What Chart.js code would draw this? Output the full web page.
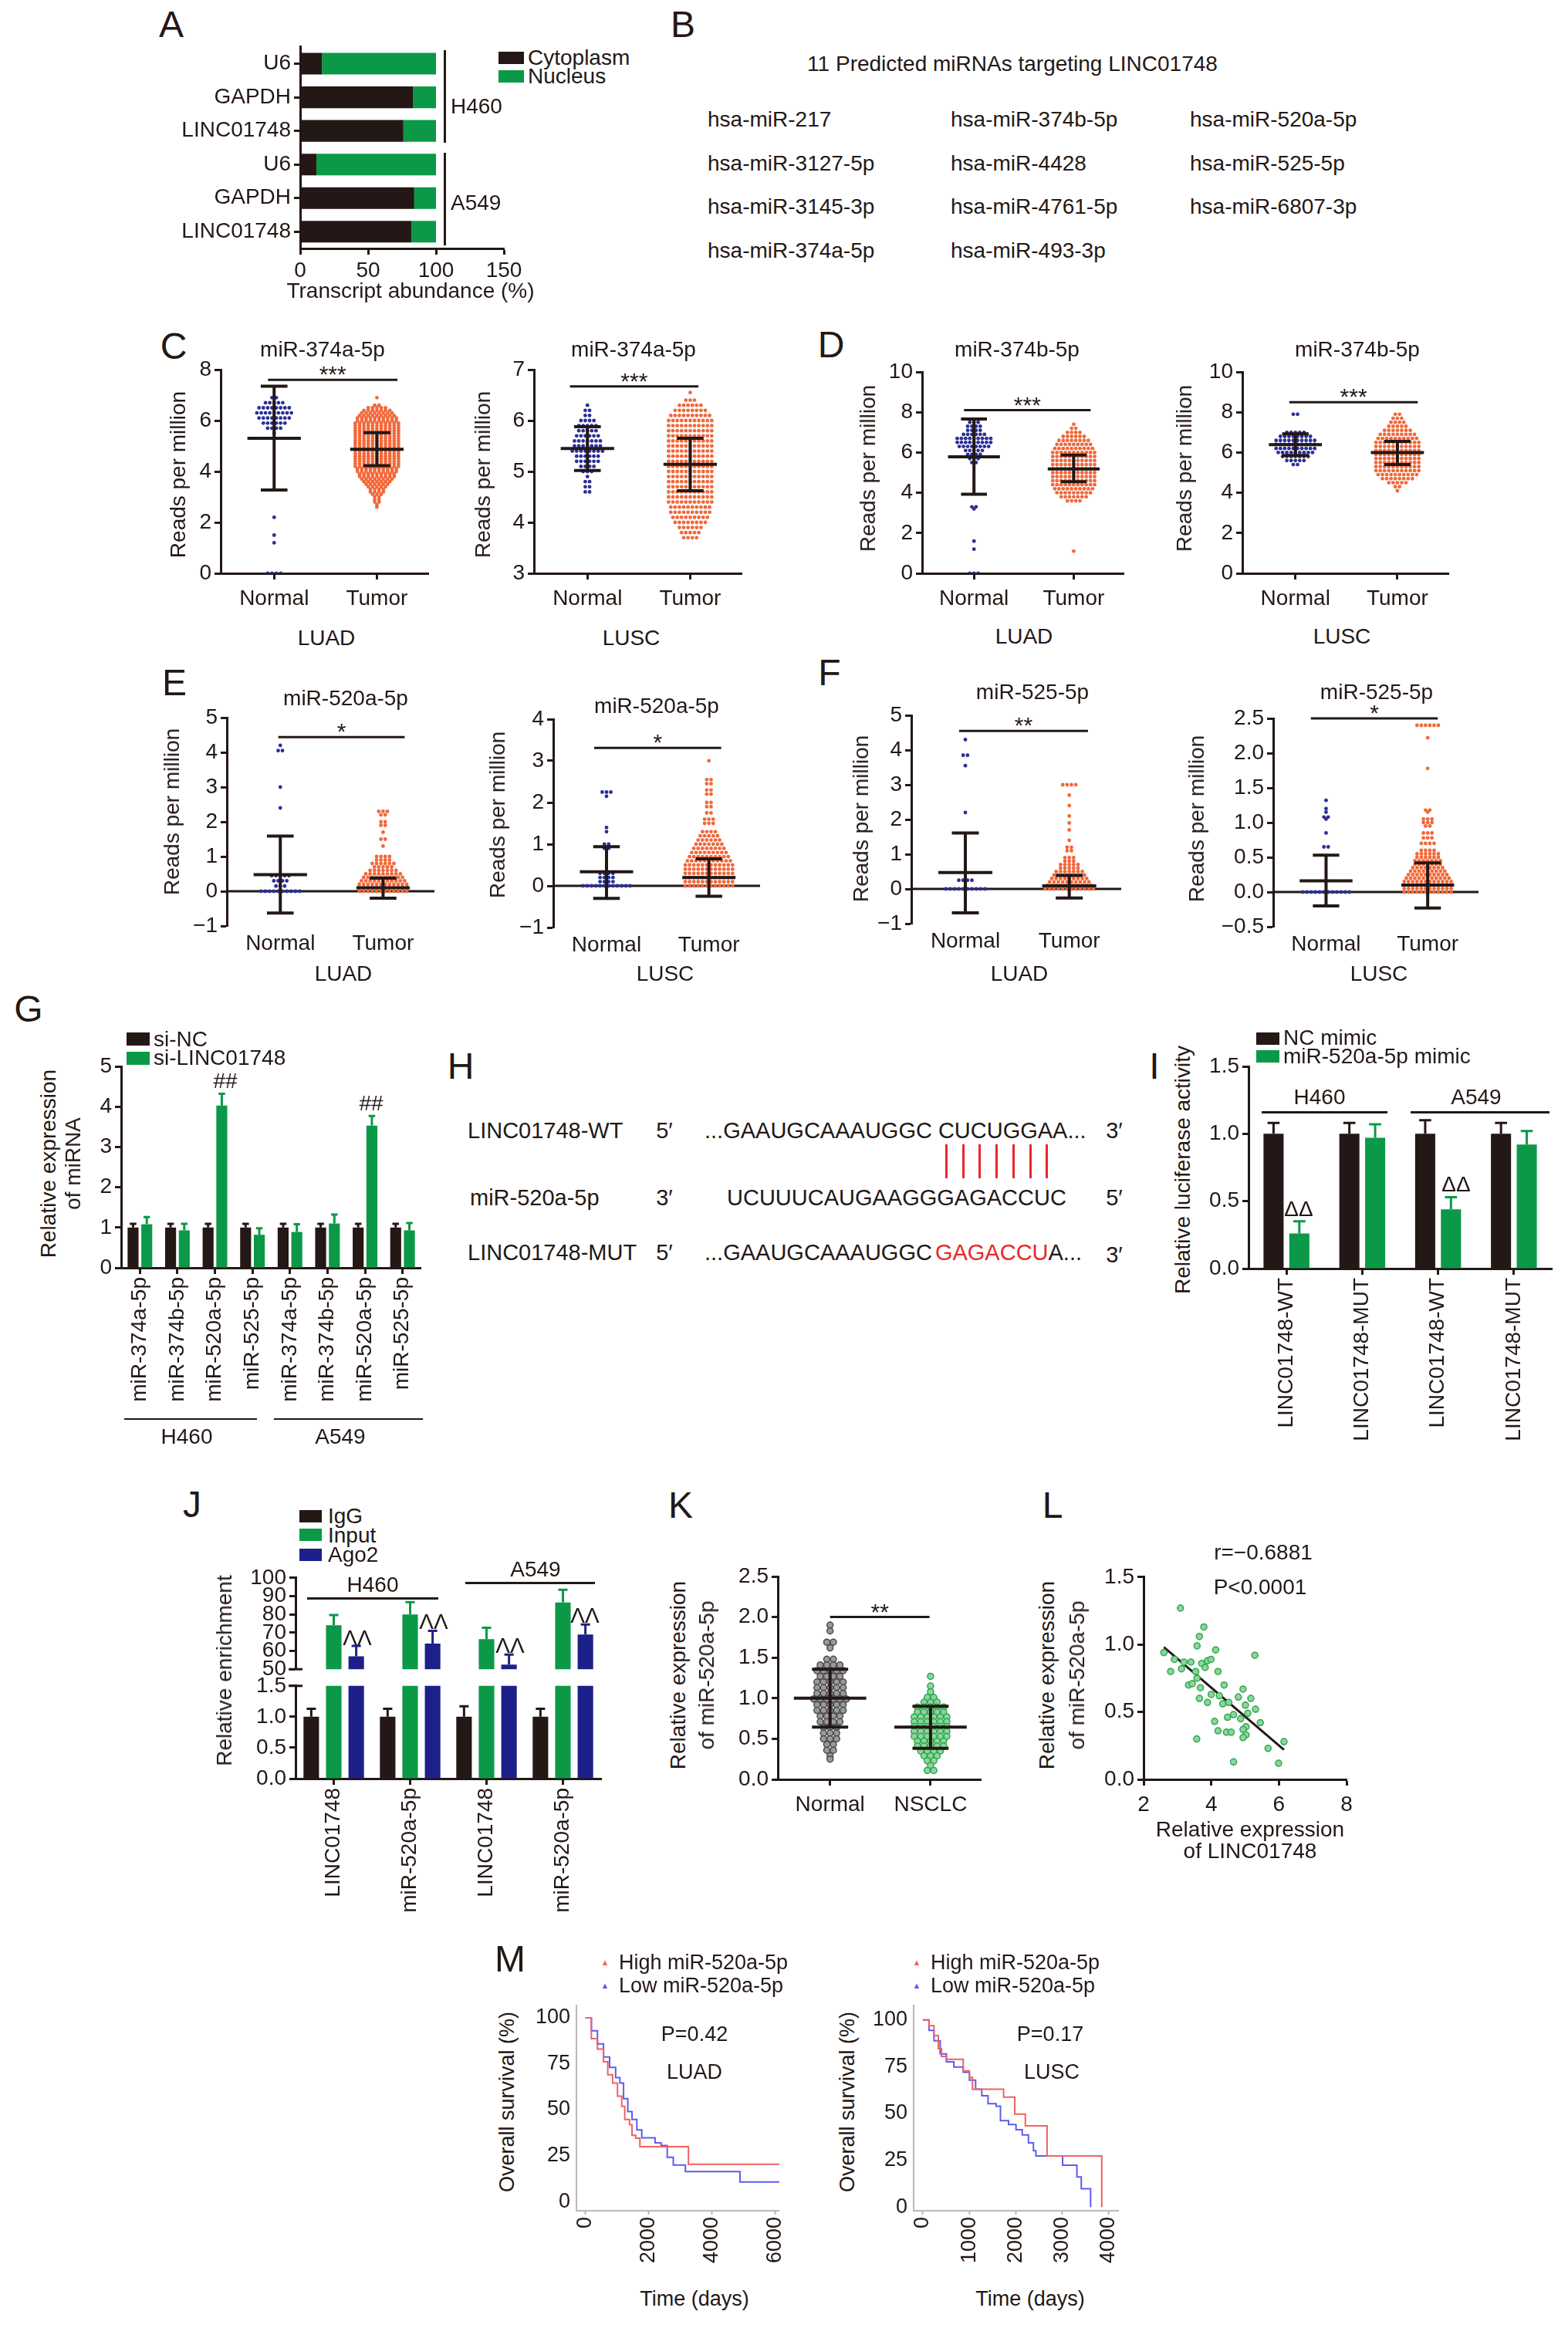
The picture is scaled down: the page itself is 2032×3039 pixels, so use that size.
<!DOCTYPE html>
<html>
<head>
<meta charset="utf-8">
<title>LINC01748 / miR-520a-5p figure</title>
<script src="https://cdn.jsdelivr.net/npm/chart.js@4.4.1/dist/chart.umd.min.js"></script>
<style>
html, body { margin: 0; padding: 0; background: #fff; }
body { position: relative; width: 2032px; height: 3039px; overflow: hidden;
       font-family: "Liberation Sans", Arial, Helvetica, sans-serif; color: #231815; }
.tx { position: absolute; white-space: nowrap; line-height: 1; font-size: 28px; }
.ln { position: absolute; }
canvas { position: absolute; }
</style>
</head>
<body>
<script>
// ---------- data ----------
// A: subcellular fractions (%)
var aCats = ["U6", "GAPDH", "LINC01748", "U6", "GAPDH", "LINC01748"];
var aCyto = [16, 83, 76, 12, 84, 82];
var aNuc = [84, 17, 24, 88, 16, 18];

// C-F dot plots: value levels and how many dots sit on each level
var c1NVals = [6.9, 6.7, 6.5, 6.3, 6.1, 5.9, 5.7, 5.5, 2.2, 1.5, 1.2, 0];
var c1NCnt = [2, 5, 8, 9, 8, 6, 4, 1, 1, 1, 1, 4];
var c1TVals = [6.9, 6.6, 6.5, 6.4, 6.3, 6.2, 6.1, 6.0, 5.9, 5.8, 5.7, 5.6, 5.5, 5.4, 5.3, 5.2, 5.1, 5.0, 4.9, 4.8, 4.7, 4.6, 4.5, 4.4, 4.3, 4.2, 4.1, 4.0, 3.9, 3.8, 3.7, 3.6, 3.5, 3.4, 3.3, 3.2, 3.1, 3.0, 2.9, 2.8, 2.7, 2.6];
var c1TCnt = [1, 2, 5, 7, 8, 9, 10, 10, 11, 11, 11, 11, 11, 11, 11, 11, 11, 11, 11, 11, 11, 11, 11, 11, 11, 11, 10, 10, 9, 9, 8, 7, 6, 5, 4, 4, 3, 2, 2, 2, 1, 1];
var c1Mean = [5.3, 4.87], c1Lo = [3.27, 4.23], c1Hi = [7.35, 5.52], c1Sig = [0.94, 2.2, 7.6];

var c2NVals = [6.3, 6.2, 6.1, 6.0, 5.9, 5.8, 5.7, 5.6, 5.5, 5.4, 5.3, 5.2, 5.1, 5.0, 4.9, 4.8, 4.7, 4.6];
var c2NCnt = [1, 2, 2, 4, 5, 5, 6, 7, 7, 8, 6, 6, 4, 3, 1, 2, 2, 2];
var c2TVals = [6.55, 6.4, 6.3, 6.2, 6.1, 6.0, 5.9, 5.8, 5.7, 5.6, 5.5, 5.4, 5.3, 5.2, 5.1, 5.0, 4.9, 4.8, 4.7, 4.6, 4.5, 4.4, 4.3, 4.2, 4.1, 4.0, 3.9, 3.8, 3.7];
var c2TCnt = [1, 3, 6, 8, 10, 11, 11, 11, 11, 11, 11, 11, 11, 11, 11, 11, 11, 11, 11, 11, 11, 11, 10, 10, 9, 8, 6, 5, 4];
var c2Mean = [5.45, 5.14], c2Lo = [5.02, 4.62], c2Hi = [5.88, 5.65], c2Sig = [0.83, 2.08, 6.67];

var d1NVals = [7.5, 7.3, 7.1, 6.9, 6.7, 6.5, 6.3, 6.1, 5.9, 5.7, 5.5, 3.3, 3.2, 1.6, 1.2, 0];
var d1NCnt = [3, 4, 4, 6, 9, 9, 8, 5, 4, 3, 2, 2, 1, 1, 1, 3];
var d1TVals = [7.4, 7.2, 7.0, 6.8, 6.6, 6.4, 6.2, 6.0, 5.8, 5.6, 5.4, 5.2, 5.0, 4.8, 4.6, 4.4, 4.2, 4.0, 3.8, 3.6, 1.1];
var d1TCnt = [1, 2, 4, 6, 8, 9, 10, 11, 11, 11, 11, 11, 11, 11, 11, 11, 10, 9, 7, 4, 1];
var d1Mean = [5.79, 5.18], d1Lo = [3.93, 4.55], d1Hi = [7.66, 5.87], d1Sig = [0.9, 2.17, 8.1];

var d2NVals = [7.9, 7.0, 6.8, 6.6, 6.4, 6.2, 6.0, 5.8, 5.6, 5.4];
var d2NCnt = [2, 5, 8, 10, 10, 10, 9, 7, 5, 2];
var d2TVals = [7.9, 7.7, 7.5, 7.3, 7.1, 6.9, 6.7, 6.5, 6.3, 6.1, 5.9, 5.7, 5.5, 5.3, 5.1, 4.9, 4.7, 4.5, 4.3, 4.1];
var d2TCnt = [2, 3, 4, 5, 7, 9, 10, 11, 11, 11, 11, 11, 11, 11, 11, 10, 8, 5, 2, 1];
var d2Mean = [6.39, 6.0], d2Lo = [5.85, 5.4], d2Hi = [6.93, 6.55], d2Sig = [0.94, 2.2, 8.5];

var e1NVals = [4.2, 4.05, 3.0, 2.4, 0.45, 0.3, 0.15, 0];
var e1NCnt = [1, 2, 1, 1, 5, 4, 3, 10];
var e1TVals = [2.3, 2.2, 2.0, 1.9, 1.7, 1.5, 1.3, 1.0, 0.9, 0.8, 0.7, 0.6, 0.5, 0.4, 0.3, 0.2, 0.1, 0];
var e1TCnt = [3, 2, 2, 2, 1, 2, 1, 4, 4, 6, 5, 7, 9, 10, 11, 12, 12, 12];
var e1Mean = [0.48, 0.1], e1Lo = [-0.63, -0.2], e1Hi = [1.59, 0.38], e1Sig = [0.98, 2.21, 4.44];

var e2NVals = [2.25, 2.15, 1.4, 1.3, 1.0, 0.9, 0.3, 0.2, 0.1, 0];
var e2NCnt = [3, 1, 1, 1, 2, 2, 4, 4, 4, 12];
var e2TVals = [3.0, 2.55, 2.45, 2.3, 2.2, 2.0, 1.9, 1.75, 1.6, 1.5, 1.3, 1.2, 1.1, 1.0, 0.9, 0.8, 0.7, 0.6, 0.5, 0.4, 0.3, 0.2, 0.1, 0];
var e2TCnt = [1, 2, 2, 2, 2, 2, 2, 2, 3, 3, 4, 5, 6, 7, 8, 9, 10, 11, 12, 12, 12, 12, 12, 12];
var e2Mean = [0.34, 0.2], e2Lo = [-0.3, -0.25], e2Hi = [0.94, 0.65], e2Sig = [0.88, 2.12, 3.31];

var f1NVals = [4.3, 3.85, 3.55, 2.2, 0.25, 0];
var f1NCnt = [1, 2, 1, 1, 4, 10];
var f1TVals = [3.0, 2.7, 2.4, 2.1, 1.9, 1.7, 1.4, 1.2, 1.1, 0.9, 0.8, 0.7, 0.6, 0.5, 0.4, 0.3, 0.2, 0.1, 0];
var f1TCnt = [4, 1, 1, 1, 1, 1, 1, 2, 2, 3, 3, 5, 5, 7, 8, 9, 10, 11, 12];
var f1Mean = [0.47, 0.09], f1Lo = [-0.69, -0.26], f1Hi = [1.61, 0.39], f1Sig = [0.94, 2.18, 4.55];

var f2NVals = [1.32, 1.2, 1.15, 1.08, 1.05, 0.85, 0.65, 0];
var f2NCnt = [1, 1, 1, 2, 1, 1, 2, 12];
var f2TVals = [2.4, 2.22, 1.78, 1.18, 1.15, 1.05, 1.0, 0.95, 0.85, 0.78, 0.7, 0.6, 0.55, 0.5, 0.45, 0.4, 0.35, 0.3, 0.25, 0.2, 0.15, 0.1, 0.05, 0];
var f2TCnt = [6, 1, 1, 2, 1, 3, 3, 2, 3, 3, 4, 4, 6, 6, 7, 7, 8, 9, 10, 11, 12, 12, 12, 12];
var f2Mean = [0.16, 0.1], f2Lo = [-0.2, -0.23], f2Hi = [0.53, 0.42], f2Sig = [0.85, 2.1, 2.5];

// G: relative miRNA expression after knockdown
var gCats = ["miR-374a-5p", "miR-374b-5p", "miR-520a-5p", "miR-525-5p", "miR-374a-5p", "miR-374b-5p", "miR-520a-5p", "miR-525-5p"];
var gNC = [1, 1, 1, 1, 1, 1, 1, 1];
var gNCErr = [0.09, 0.09, 0.09, 0.09, 0.09, 0.09, 0.09, 0.09];
var gSi = [1.08, 0.93, 4.03, 0.82, 0.89, 1.10, 3.53, 0.93];
var gSiErr = [0.18, 0.16, 0.29, 0.16, 0.19, 0.22, 0.24, 0.18];

// I: luciferase
var iCats = ["LINC01748-WT", "LINC01748-MUT", "LINC01748-WT", "LINC01748-MUT"];
var iNC = [1, 1, 1, 1];
var iNCErr = [0.08, 0.08, 0.1, 0.08];
var iMim = [0.26, 0.97, 0.44, 0.92];
var iMimErr = [0.09, 0.1, 0.09, 0.1];

// J: RIP enrichment
var jCats = ["LINC01748", "miR-520a-5p", "LINC01748", "miR-520a-5p"];
var jIgG = [1, 1, 1, 1];
var jIgGErr = [0.13, 0.13, 0.17, 0.13];
var jInput = [74, 80, 66.5, 86.5];
var jInputErr = [5.6, 6.7, 6.2, 7];
var jAgo2 = [57, 64, 52.5, 69];
var jAgo2Err = [5.8, 7, 5.5, 5.5];

// K: tissue expression
var kNVals = [1.9, 1.83, 1.69, 1.62, 1.48, 1.41, 1.34, 1.27, 1.2, 1.13, 1.06, 0.99, 0.92, 0.85, 0.78, 0.71, 0.64, 0.57, 0.5, 0.43, 0.36, 0.29, 0.25];
var kNCnt = [1, 1, 2, 1, 2, 4, 5, 4, 5, 5, 5, 6, 5, 5, 4, 4, 3, 3, 3, 2, 2, 1, 1];
var kTVals = [1.27, 1.15, 1.08, 1.01, 0.95, 0.89, 0.83, 0.77, 0.71, 0.65, 0.59, 0.53, 0.47, 0.41, 0.35, 0.29, 0.23, 0.17, 0.11];
var kTCnt = [1, 1, 1, 2, 3, 5, 5, 6, 6, 6, 6, 6, 5, 5, 4, 3, 2, 1, 2];
var kMean = [1.0, 0.644], kLo = [0.644, 0.383], kHi = [1.356, 0.9], kSig = [1.0, 1.99, 2.0];

// L: correlation
var lX = [3.09, 3.78, 3.65, 3.58, 2.6, 2.91, 2.8, 3.19, 3.4, 3.72, 3.89, 3.99, 4.13, 5.29, 3.12, 3.54, 3.82, 4.2, 3.33, 3.44, 3.58, 3.68, 4.38, 4.0, 3.65, 3.89, 4.24, 4.34, 4.52, 4.8, 4.94, 5.17, 5.01, 5.31, 5.08, 4.66, 4.48, 4.1, 4.87, 5.45, 5.03, 4.94, 4.2, 4.45, 4.59, 5.03, 4.94, 3.57, 6.15, 5.68, 4.66, 5.99];
var lY = [1.27, 1.13, 1.06, 0.99, 0.94, 0.89, 0.80, 0.87, 0.87, 0.86, 0.88, 0.89, 0.96, 0.92, 0.82, 0.80, 0.83, 0.80, 0.70, 0.71, 0.75, 0.68, 0.70, 0.63, 0.60, 0.57, 0.62, 0.56, 0.57, 0.61, 0.67, 0.60, 0.55, 0.52, 0.49, 0.48, 0.46, 0.43, 0.45, 0.42, 0.39, 0.37, 0.36, 0.35, 0.35, 0.33, 0.31, 0.30, 0.28, 0.23, 0.13, 0.12];
var lFitX = [2.6, 6.15];
var lFitY = [0.98, 0.22];

// M: Kaplan-Meier steps (days, % surviving)
var mLuadHiT = [0, 190, 384, 576, 710, 864, 1018, 1152, 1248, 1400, 1478, 1594, 1728, 3264, 6144];
var mLuadHiS = [100, 88.6, 83, 76, 69, 64.5, 57.4, 51.8, 44.7, 41.8, 36, 34.5, 29.8, 20.3, 20.3];
var mLuadLoT = [0, 192, 384, 576, 768, 960, 1094, 1210, 1344, 1478, 1632, 1786, 2208, 2400, 2592, 2784, 3168, 4896, 6144];
var mLuadLoS = [100, 92.9, 85.8, 78.7, 73, 67.4, 64.5, 56, 49, 44.7, 39, 34.7, 31.9, 30.5, 24.1, 19.9, 16.3, 10.6, 10.6];
var mLuscHiT = [0, 134, 241, 334, 401, 508, 870, 1004, 1070, 1740, 1980, 2208, 2676, 3853];
var mLuscHiS = [100, 97, 91.7, 84.7, 80.5, 79, 72.8, 69.3, 63, 58.8, 49.7, 43.4, 27.3, 0];
var mLuscLoT = [0, 134, 241, 375, 508, 669, 870, 1004, 1137, 1271, 1405, 1579, 1672, 1846, 2007, 2141, 2275, 2382, 2435, 3010, 3318, 3412, 3613];
var mLuscLoS = [100, 94.5, 88.9, 81.9, 77.7, 74.9, 72.1, 67.9, 63, 59.5, 55.3, 53.9, 46.2, 44.1, 41.3, 38.5, 34.3, 30.1, 27.3, 22.4, 16.1, 9.8, 0];

// ---------- look ----------
var FONT = '"Liberation Sans", Arial, Helvetica, sans-serif';
var INK = "#231815";
var BLK = "#231815", GRN = "#0b9947", NAVY = "#1d2088";
var DOTB = "#2b2f96", DOTO = "#f2683a";
var KMR = "#f06262", KMB = "#5c5cf0", GREY = "#b8b8b8";

Chart.defaults.font.family = FONT;
Chart.defaults.font.size = 28;
Chart.defaults.color = INK;
Chart.defaults.animation = false;
Chart.defaults.plugins.legend.display = false;
Chart.defaults.plugins.tooltip.enabled = false;

function text(s, x, y, o) {
    o = o || {};
    var d = document.createElement("div");
    d.className = "tx";
    d.innerHTML = s;
    d.style.left = x + "px";
    d.style.top = y + "px";
    d.style.fontSize = (o.size || 28) + "px";
    if (o.color) d.style.color = o.color;
    var tr = o.left ? "translate(0,-50%)" : "translate(-50%,-50%)";
    if (o.rot) tr += " rotate(" + o.rot + "deg)";
    d.style.transform = tr;
    document.body.appendChild(d);
}

function rule(x, y, w, h, col) {
    var d = document.createElement("div");
    d.className = "ln";
    d.style.left = x + "px";
    d.style.top = y + "px";
    d.style.width = w + "px";
    d.style.height = h + "px";
    d.style.background = col || INK;
    document.body.appendChild(d);
}

function minus(s) { return String(s).replace("-", "\u2212"); }
function fmt(d) { return function (v) { return minus(Number(v).toFixed(d)); }; }
function fixedTicks(vals) {
    return function (s) { s.ticks = vals.map(function (v) { return { value: v }; }); };
}

function linAxis(min, max, step, dec) {
    return {
        type: "linear", min: min, max: max,
        ticks: { stepSize: step, padding: 4, autoSkip: false, callback: fmt(dec), font: { size: 28 }, color: INK },
        border: { display: true, color: INK, width: 3 },
        grid: { display: true, drawOnChartArea: false, drawTicks: true, tickLength: 8, tickWidth: 3, tickColor: INK, color: INK }
    };
}

function catAxis(rot) {
    return {
        type: "category", offset: true,
        ticks: { padding: 4, autoSkip: false, minRotation: rot || 0, maxRotation: rot || 0, font: { size: 28 }, color: INK },
        border: { display: true, color: INK, width: 3 },
        grid: { display: true, offset: false, drawOnChartArea: false, drawTicks: true, tickLength: 8, tickWidth: 3, tickColor: INK, color: INK }
    };
}

// r = plot rectangle [x0, y0, x1, y1] in page pixels, m = room around it [top, right, bottom, left]
function mount(r, m, cfg, extra) {
    var w = r[2] - r[0] + m[1] + m[3];
    var h = r[3] - r[1] + m[0] + m[2];
    var c = document.createElement("canvas");
    c.width = w;
    c.height = h;
    c.style.left = (r[0] - m[3]) + "px";
    c.style.top = (r[1] - m[0]) + "px";
    c.style.width = w + "px";
    c.style.height = h + "px";
    document.body.appendChild(c);
    c.extra = extra || {};
    cfg.options = cfg.options || {};
    cfg.options.responsive = false;
    cfg.options.devicePixelRatio = 1;
    cfg.options.layout = { padding: { top: m[0], right: m[1], bottom: 0, left: 0 } };
    cfg.options.scales.x.afterFit = function (s) { s.height = m[2]; };
    cfg.options.scales.y.afterFit = function (s) { s.width = m[3]; };
    return new Chart(c, cfg);
}

// mean / SD bars, significance line, zero line for the dot plots
var statPlugin = {
    id: "stat",
    beforeDatasetsDraw: function (chart) {
        var o = chart.canvas.extra;
        if (!o.zero) return;
        var a = chart.chartArea, y = chart.scales.y.getPixelForValue(0), ctx = chart.ctx;
        ctx.save();
        ctx.strokeStyle = INK;
        ctx.lineWidth = 3;
        ctx.beginPath();
        ctx.moveTo(a.left, y);
        ctx.lineTo(a.right, y);
        ctx.stroke();
        ctx.restore();
    },
    afterDatasetsDraw: function (chart) {
        var o = chart.canvas.extra;
        if (!o.mean) return;
        var xs = chart.scales.x, ys = chart.scales.y, ctx = chart.ctx;
        var unit = xs.getPixelForValue(2) - xs.getPixelForValue(1);
        ctx.save();
        ctx.strokeStyle = INK;
        ctx.lineWidth = 4;
        for (var i = 0; i < o.mean.length; i++) {
            var cx = xs.getPixelForValue(i + 1);
            var m = ys.getPixelForValue(o.mean[i]);
            var lo = ys.getPixelForValue(o.lo[i]);
            var hi = ys.getPixelForValue(o.hi[i]);
            var mw = o.mw * unit, cw = o.cw * unit;
            ctx.beginPath();
            ctx.moveTo(cx - mw, m); ctx.lineTo(cx + mw, m);
            ctx.moveTo(cx, lo); ctx.lineTo(cx, hi);
            ctx.moveTo(cx - cw, lo); ctx.lineTo(cx + cw, lo);
            ctx.moveTo(cx - cw, hi); ctx.lineTo(cx + cw, hi);
            ctx.stroke();
        }
        if (o.sig) {
            var sy = ys.getPixelForValue(o.sig[2]);
            var sx0 = xs.getPixelForValue(o.sig[0]), sx1 = xs.getPixelForValue(o.sig[1]);
            ctx.lineWidth = 3;
            ctx.beginPath();
            ctx.moveTo(sx0, sy);
            ctx.lineTo(sx1, sy);
            ctx.stroke();
            ctx.fillStyle = INK;
            ctx.font = "30px " + FONT;
            ctx.textAlign = "center";
            ctx.textBaseline = "alphabetic";
            ctx.fillText(o.stars, (sx0 + sx1) / 2, sy + 3);
        }
        ctx.restore();
    }
};

// error bars on top of bars
var errPlugin = {
    id: "errs",
    afterDatasetsDraw: function (chart) {
        var o = chart.canvas.extra;
        if (!o.errs) return;
        var ctx = chart.ctx, ys = chart.scales.y, a = chart.chartArea;
        ctx.save();
        ctx.beginPath();
        ctx.rect(a.left, a.top - 2, a.right - a.left, a.bottom - a.top + 2);
        ctx.clip();
        ctx.lineWidth = 3;
        for (var d = 0; d < o.errs.length; d++) {
            var meta = chart.getDatasetMeta(d), ds = chart.data.datasets[d];
            ctx.strokeStyle = ds.backgroundColor;
            for (var k = 0; k < meta.data.length; k++) {
                var bar = meta.data[k], v = ds.data[k];
                var y0 = ys.getPixelForValue(v), y1 = ys.getPixelForValue(v + o.errs[d][k]);
                var cw = bar.width * 0.3;
                ctx.beginPath();
                ctx.moveTo(bar.x, y0); ctx.lineTo(bar.x, y1);
                ctx.moveTo(bar.x - cw, y1); ctx.lineTo(bar.x + cw, y1);
                ctx.stroke();
            }
        }
        ctx.restore();
    }
};

// little axis-break marks for J
var breakPlugin = {
    id: "brk",
    afterDraw: function (chart) {
        var o = chart.canvas.extra;
        if (!o.brk) return;
        var a = chart.chartArea, ctx = chart.ctx;
        var y = o.brk === "bottom" ? a.bottom : a.top;
        ctx.save();
        ctx.strokeStyle = INK;
        ctx.lineWidth = 3;
        ctx.beginPath();
        ctx.moveTo(a.left - 9, y);
        ctx.lineTo(a.left + 9, y);
        ctx.stroke();
        ctx.restore();
    }
};

Chart.register(statPlugin, errPlugin, breakPlugin);

function swarm(cat, vals, cnts, dx) {
    var pts = [];
    for (var i = 0; i < vals.length; i++) {
        var n = cnts[i];
        for (var j = 0; j < n; j++) {
            pts.push({ x: cat + (j - (n - 1) / 2) * dx, y: vals[i] });
        }
    }
    return pts;
}

function dotPlot(r, yr, dec, cats, groups, fills, st, o) {
    o = o || {};
    var ds = [];
    for (var g = 0; g < groups.length; g++) {
        ds.push({
            data: swarm(g + 1, groups[g][0], groups[g][1], o.dx || 0.042),
            pointRadius: o.r || 2.4,
            pointBackgroundColor: fills[g],
            pointBorderColor: o.edges ? o.edges[g] : fills[g],
            pointBorderWidth: o.edges ? 1.5 : 0
        });
    }
    var x = linAxis(o.xmin || 0.48, 2.5, 1, 0);
    x.afterBuildTicks = fixedTicks([1, 2]);
    x.ticks.callback = function (v, i) { return cats[i]; };
    x.ticks.padding = 8;
    if (o.noX) {
        x.border.display = false;
        x.grid.display = false;
        x.grid.drawTicks = false;
        x.ticks.padding = 6;
    }
    st.mw = o.mw || 0.26;
    st.cw = o.cw || 0.13;
    return mount(r, [50, 12, 60, 90], {
        type: "scatter",
        data: { datasets: ds },
        options: { scales: { x: x, y: linAxis(yr[0], yr[1], yr[2], dec) } }
    }, st);
}

// ---------- panel A ----------
text("A", 222, 32, { size: 48 });
(function () {
    var x = linAxis(0, 150, 50, 0);
    x.stacked = true;
    var y = catAxis(0);
    y.stacked = true;
    mount([389, 60, 653, 322], [20, 30, 70, 200], {
        type: "bar",
        data: {
            labels: aCats,
            datasets: [
                { data: aCyto, backgroundColor: BLK, barPercentage: 0.645, categoryPercentage: 1 },
                { data: aNuc, backgroundColor: GRN, barPercentage: 0.645, categoryPercentage: 1 }
            ]
        },
        options: { indexAxis: "y", scales: { x: x, y: y } }
    });
})();
rule(575, 65, 3, 120);
rule(575, 198, 3, 120);
text("H460", 584, 138, { left: true });
text("A549", 584, 263, { left: true });
rule(646, 67, 33, 16, BLK);
rule(646, 91, 33, 16, GRN);
text("Cytoplasm", 684, 75, { left: true });
text("Nucleus", 684, 99, { left: true });
text("Transcript abundance (%)", 532, 377);

// ---------- panel B ----------
text("B", 885, 32, { size: 48 });
text("11 Predicted miRNAs targeting LINC01748", 1312, 83);
var bCols = [
    ["hsa-miR-217", "hsa-miR-3127-5p", "hsa-miR-3145-3p", "hsa-miR-374a-5p"],
    ["hsa-miR-374b-5p", "hsa-miR-4428", "hsa-miR-4761-5p", "hsa-miR-493-3p"],
    ["hsa-miR-520a-5p", "hsa-miR-525-5p", "hsa-miR-6807-3p"]
];
var bX = [917, 1232, 1542], bY = [155, 212, 268, 325];
bCols.forEach(function (col, ci) {
    col.forEach(function (s, ri) { text(s, bX[ci], bY[ri], { left: true }); });
});

// ---------- panels C-F ----------
var NT = ["Normal", "Tumor"];
text("C", 225, 449, { size: 48 });
dotPlot([286, 479, 555, 743], [0, 8, 2], 0, NT, [[c1NVals, c1NCnt], [c1TVals, c1TCnt]], [DOTB, DOTO],
    { mean: c1Mean, lo: c1Lo, hi: c1Hi, sig: c1Sig, stars: "***" });
dotPlot([692, 479, 961, 743], [3, 7, 1], 0, NT, [[c2NVals, c2NCnt], [c2TVals, c2TCnt]], [DOTB, DOTO],
    { mean: c2Mean, lo: c2Lo, hi: c2Hi, sig: c2Sig, stars: "***" });
text("miR-374a-5p", 418, 453);
text("miR-374a-5p", 821, 453);
text("Reads per million", 231, 615, { rot: -90 });
text("Reads per million", 626, 615, { rot: -90 });
text("LUAD", 423, 827);
text("LUSC", 818, 827);

text("D", 1077, 447, { size: 48 });
dotPlot([1195, 482, 1456, 743], [0, 10, 2], 0, NT, [[d1NVals, d1NCnt], [d1TVals, d1TCnt]], [DOTB, DOTO],
    { mean: d1Mean, lo: d1Lo, hi: d1Hi, sig: d1Sig, stars: "***" });
dotPlot([1610, 482, 1877, 743], [0, 10, 2], 0, NT, [[d2NVals, d2NCnt], [d2TVals, d2TCnt]], [DOTB, DOTO],
    { mean: d2Mean, lo: d2Lo, hi: d2Hi, sig: d2Sig, stars: "***" });
text("miR-374b-5p", 1318, 453);
text("miR-374b-5p", 1759, 453);
text("Reads per million", 1125, 607, { rot: -90 });
text("Reads per million", 1535, 607, { rot: -90 });
text("LUAD", 1327, 825);
text("LUSC", 1739, 825);

text("E", 226, 885, { size: 48 });
dotPlot([294, 930, 563, 1200], [-1, 5, 1], 0, NT, [[e1NVals, e1NCnt], [e1TVals, e1TCnt]], [DOTB, DOTO],
    { mean: e1Mean, lo: e1Lo, hi: e1Hi, sig: e1Sig, stars: "*", zero: true }, { noX: true });
dotPlot([717, 932, 985, 1202], [-1, 4, 1], 0, NT, [[e2NVals, e2NCnt], [e2TVals, e2TCnt]], [DOTB, DOTO],
    { mean: e2Mean, lo: e2Lo, hi: e2Hi, sig: e2Sig, stars: "*", zero: true }, { noX: true });
text("miR-520a-5p", 448, 905);
text("miR-520a-5p", 851, 915);
text("Reads per million", 223, 1052, { rot: -90 });
text("Reads per million", 645, 1056, { rot: -90 });
text("LUAD", 445, 1262);
text("LUSC", 862, 1262);

text("F", 1075, 872, { size: 48 });
dotPlot([1181, 927, 1453, 1197], [-1, 5, 1], 0, NT, [[f1NVals, f1NCnt], [f1TVals, f1TCnt]], [DOTB, DOTO],
    { mean: f1Mean, lo: f1Lo, hi: f1Hi, sig: f1Sig, stars: "**", zero: true }, { noX: true });
dotPlot([1650, 931, 1916, 1201], [-0.5, 2.5, 0.5], 1, NT, [[f2NVals, f2NCnt], [f2TVals, f2TCnt]], [DOTB, DOTO],
    { mean: f2Mean, lo: f2Lo, hi: f2Hi, sig: f2Sig, stars: "*", zero: true }, { noX: true });
text("miR-525-5p", 1338, 897);
text("miR-525-5p", 1784, 897);
text("Reads per million", 1116, 1061, { rot: -90 });
text("Reads per million", 1551, 1061, { rot: -90 });
text("LUAD", 1321, 1262);
text("LUSC", 1787, 1262);

// ---------- panel G ----------
text("G", 37, 1308, { size: 48 });
mount([157, 1382, 548, 1643], [30, 12, 210, 60], {
    type: "bar",
    data: {
        labels: gCats,
        datasets: [
            { data: gNC, backgroundColor: BLK, barPercentage: 0.8, categoryPercentage: 0.73 },
            { data: gSi, backgroundColor: GRN, barPercentage: 0.8, categoryPercentage: 0.73 }
        ]
    },
    options: { scales: { x: catAxis(90), y: linAxis(0, 5, 1, 0) } }
}, { errs: [gNCErr, gSiErr] });
rule(164, 1338, 30, 17, BLK);
rule(164, 1363, 30, 17, GRN);
text("si-NC", 199, 1347, { left: true });
text("si-LINC01748", 199, 1371, { left: true });
text("Relative expression", 63, 1508, { rot: -90 });
text("of miRNA", 95, 1508, { rot: -90 });
text("##", 292, 1401);
text("##", 481, 1430);
rule(161, 1838, 172, 2);
rule(355, 1838, 193, 2);
text("H460", 242, 1862);
text("A549", 441, 1862);

// ---------- panel H ----------
text("H", 597, 1382, { size: 48 });
var RED = "#e8272a";
text("LINC01748-WT", 606, 1465, { left: true, size: 29 });
text("5\u2032", 861, 1465, { size: 29 });
text("...GAAUGCAAAUGGC<span style=\"margin-left:8px\">CUCUGGAA...</span>", 913, 1465, { left: true, size: 29 });
text("3\u2032", 1444, 1465, { size: 29 });
for (var p = 0; p < 7; p++) rule(1225 + p * 21.7, 1483, 3, 44, RED);
text("miR-520a-5p", 609, 1552, { left: true, size: 29 });
text("3\u2032", 861, 1552, { size: 29 });
text("UCUUUCAUGAAGGGAGACCUC", 942, 1552, { left: true, size: 29 });
text("5\u2032", 1444, 1552, { size: 29 });
text("LINC01748-MUT", 606, 1623, { left: true, size: 29 });
text("5\u2032", 861, 1623, { size: 29 });
text("...GAAUGCAAAUGGC<span style=\"margin-left:4px;color:" + RED + "\">GAGACCU</span>A...", 913, 1623, { left: true, size: 29 });
text("3\u2032", 1444, 1626, { size: 29 });

// ---------- panel I ----------
text("I", 1496, 1382, { size: 48 });
mount([1618, 1382, 2011, 1644], [30, 12, 240, 60], {
    type: "bar",
    data: {
        labels: iCats,
        datasets: [
            { data: iNC, backgroundColor: BLK, barPercentage: 0.78, categoryPercentage: 0.68 },
            { data: iMim, backgroundColor: GRN, barPercentage: 0.78, categoryPercentage: 0.68 }
        ]
    },
    options: { scales: { x: catAxis(90), y: linAxis(0, 1.5, 0.5, 1) } }
}, { errs: [iNCErr, iMimErr] });
rule(1628, 1338, 30, 16, BLK);
rule(1628, 1361, 30, 16, GRN);
text("NC mimic", 1663, 1345, { left: true });
text("miR-520a-5p mimic", 1663, 1369, { left: true });
text("Relative luciferase activity", 1533, 1516, { rot: -90 });
rule(1635, 1440, 163, 3);
rule(1828, 1440, 180, 3);
text("H460", 1710, 1422);
text("A549", 1913, 1422);
text("\u0394\u0394", 1683, 1567);
text("\u0394\u0394", 1887, 1535);

// ---------- panel J (broken axis: two stacked charts on the same data) ----------
text("J", 249, 1950, { size: 48 });
function jSets() {
    return [
        { data: jIgG, backgroundColor: BLK, barPercentage: 0.69, categoryPercentage: 0.883, clip: 0 },
        { data: jInput, backgroundColor: GRN, barPercentage: 0.69, categoryPercentage: 0.883, clip: 0 },
        { data: jAgo2, backgroundColor: NAVY, barPercentage: 0.69, categoryPercentage: 0.883, clip: 0 }
    ];
}
(function () {
    var xu = catAxis(90);
    xu.ticks.display = false;
    xu.border.display = false;
    xu.grid.display = false;
    mount([383, 2044, 779, 2164], [20, 12, 20, 80], {
        type: "bar",
        data: { labels: jCats, datasets: jSets() },
        options: { scales: { x: xu, y: linAxis(50, 100, 10, 0) } }
    }, { errs: [jIgGErr, jInputErr, jAgo2Err], brk: "bottom" });
    mount([383, 2184, 779, 2305], [20, 12, 210, 80], {
        type: "bar",
        data: { labels: jCats, datasets: jSets() },
        options: { scales: { x: catAxis(90), y: linAxis(0, 1.5, 0.5, 1) } }
    }, { errs: [jIgGErr, jInputErr, jAgo2Err], brk: "top" });
})();
rule(388, 1957, 29, 16, BLK);
rule(388, 1981, 29, 16, GRN);
rule(388, 2007, 29, 16, NAVY);
text("IgG", 425, 1965, { left: true });
text("Input", 425, 1990, { left: true });
text("Ago2", 425, 2015, { left: true });
text("Relative enrichment", 291, 2165, { rot: -90 });
rule(398, 2070, 170, 3);
rule(603, 2050, 168, 3);
text("H460", 483, 2054);
text("A549", 694, 2034);
text("\u039b\u039b", 463, 2123);
text("\u039b\u039b", 562, 2102);
text("\u039b\u039b", 661, 2133);
text("\u039b\u039b", 758, 2094);

// ---------- panel K ----------
text("K", 882, 1951, { size: 48 });
dotPlot([1008, 2043, 1271, 2306], [0, 2.5, 0.5], 1, ["Normal", "NSCLC"], [[kNVals, kNCnt], [kTVals, kTCnt]],
    ["#9a9a9a", "#8fd49e"],
    { mean: kMean, lo: kLo, hi: kHi, sig: kSig, stars: "**" },
    { dx: 0.065, r: 4, edges: ["#4a4a4a", "#2ca84a"], mw: 0.36, cw: 0.18 });
text("Relative expression", 879, 2171, { rot: -90 });
text("of miR-520a-5p", 916, 2171, { rot: -90 });

// ---------- panel L ----------
text("L", 1364, 1951, { size: 48 });
(function () {
    var pts = lX.map(function (v, i) { return { x: v, y: lY[i] }; });
    var fit = lFitX.map(function (v, i) { return { x: v, y: lFitY[i] }; });
    var x = linAxis(2, 8, 2, 0);
    x.ticks.padding = 8;
    mount([1482, 2043, 1745, 2306], [20, 25, 50, 90], {
        type: "scatter",
        data: {
            datasets: [
                { data: pts, pointRadius: 4, pointBackgroundColor: "#8fd49e", pointBorderColor: "#2ca84a", pointBorderWidth: 1.5 },
                { type: "line", data: fit, borderColor: INK, borderWidth: 3, pointRadius: 0 }
            ]
        },
        options: { scales: { x: x, y: linAxis(0, 1.5, 0.5, 1) } }
    });
})();
text("Relative expression", 1357, 2171, { rot: -90 });
text("of miR-520a-5p", 1396, 2171, { rot: -90 });
text("r=\u22120.6881", 1637, 2012);
text("P&lt;0.0001", 1633, 2057);
text("Relative expression", 1620, 2371);
text("of LINC01748", 1620, 2399);

// ---------- panel M ----------
text("M", 661, 2539, { size: 48 });
function kmPts(t, s) { return t.map(function (v, i) { return { x: v, y: s[i] }; }); }
function kmChart(r, xr, xt, yr, hiT, hiS, loT, loS) {
    var x = linAxis(xr[0], xr[1], 1000, 0);
    x.afterBuildTicks = fixedTicks(xt);
    x.ticks.callback = function (v) { return String(v); };
    x.ticks.minRotation = 90;
    x.ticks.maxRotation = 90;
    x.ticks.padding = 3;
    x.ticks.font = { size: 27 };
    x.border = { display: true, color: GREY, width: 2 };
    x.grid = { display: true, drawOnChartArea: false, drawTicks: true, tickLength: 5, tickWidth: 2, tickColor: GREY };
    var y = linAxis(yr[0], yr[1], 25, 0);
    y.afterBuildTicks = fixedTicks([0, 25, 50, 75, 100]);
    y.ticks.font = { size: 27 };
    y.ticks.padding = 8;
    y.border = { display: true, color: GREY, width: 2 };
    y.grid = { display: false, drawTicks: false };
    mount(r, [20, 20, 90, 70], {
        type: "line",
        data: {
            datasets: [
                { data: kmPts(hiT, hiS), borderColor: KMR, borderWidth: 2, pointRadius: 0, stepped: "before", fill: false },
                { data: kmPts(loT, loS), borderColor: KMB, borderWidth: 2, pointRadius: 0, stepped: "before", fill: false }
            ]
        },
        options: { scales: { x: x, y: y } }
    });
}
kmChart([747, 2595, 1020, 2865], [-282, 6141], [0, 2000, 4000, 6000], [-5, 106.6],
    mLuadHiT, mLuadHiS, mLuadLoT, mLuadLoS);
kmChart([1184, 2595, 1453, 2865], [-197, 4213], [0, 1000, 2000, 3000, 4000], [-2, 107.7],
    mLuscHiT, mLuscHiS, mLuscLoT, mLuscLoS);
text("\u25b2", 784, 2543, { size: 11, color: KMR });
text("High miR-520a-5p", 802, 2543, { left: true, size: 27 });
text("\u25b2", 784, 2573, { size: 11, color: KMB });
text("Low miR-520a-5p", 802, 2573, { left: true, size: 27 });
text("\u25b2", 1188, 2543, { size: 11, color: KMR });
text("High miR-520a-5p", 1206, 2543, { left: true, size: 27 });
text("\u25b2", 1188, 2573, { size: 11, color: KMB });
text("Low miR-520a-5p", 1206, 2573, { left: true, size: 27 });
text("P=0.42", 900, 2636, { size: 27 });
text("LUAD", 900, 2685, { size: 27 });
text("P=0.17", 1361, 2636, { size: 27 });
text("LUSC", 1363, 2685, { size: 27 });
text("Overall survival (%)", 657, 2724, { rot: -90, size: 27 });
text("Overall survival (%)", 1098, 2724, { rot: -90, size: 27 });
text("Time (days)", 900, 2979, { size: 27 });
text("Time (days)", 1335, 2979, { size: 27 });
</script>
</body>
</html>
